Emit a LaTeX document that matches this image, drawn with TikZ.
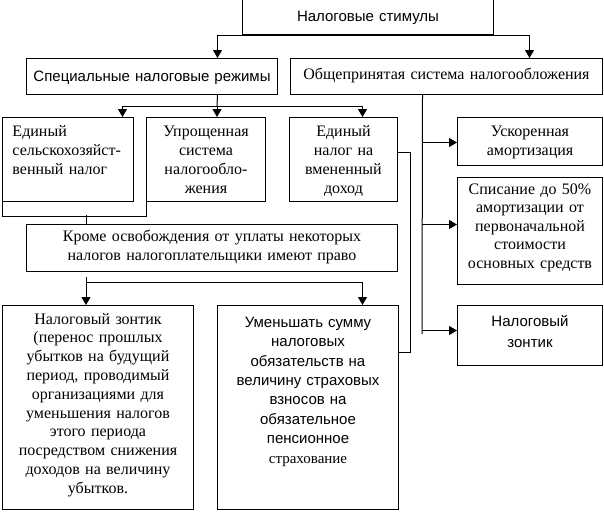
\documentclass[tikz,border=0pt]{standalone}
\usepackage{fontspec}
\setmainfont{Liberation Serif}
\newfontfamily\arialf{Liberation Sans}
\usepackage{tikz}
\usetikzlibrary{arrows.meta, calc}

\begin{document}
\begin{tikzpicture}[x=1pt, y=-1pt, line width=1pt,
  box/.style={draw, anchor=north west, inner sep=0pt, align=center},
  serif/.style={font=\fontsize{16}{19}\selectfont},
  sans/.style={font=\arialf\fontsize{15}{19.4}\selectfont},
  arr/.style={-{Triangle[width=9pt, length=8pt]}}]
\useasboundingbox (0,0) rectangle (604,512);

% Top - stimuli and the two systems
\node[box, sans, text width=251pt, text height=36pt, text depth=13pt] (stim) at (242,-15) {Налоговые стимулы};
\node[box, sans, text width=251pt, text height=22.5pt, text depth=13.5pt] (spec) at (26,58) {Специальные налоговые режимы};
\node[box, serif, text width=312pt, text height=20.5pt, text depth=15.5pt] (gen) at (290,58) {Общепринятая система налогообложения};

% Special regimes
\node[box, serif, align=left, inner xsep=10pt, text width=111pt, text height=18.5pt, text depth=65.5pt] (box1) at (2,117) {Единый\\сельскохозяйст-\\венный налог};
\node[box, serif, text width=119pt, text height=18.5pt, text depth=65.5pt] (box2) at (146,117) {Упрощенная\\система\\налогообло-\\жения};
\node[box, serif, text width=108pt, text height=18.5pt, text depth=65.5pt] (box3) at (289,117) {Единый\\налог на\\вмененный\\доход};
\node[box, serif, text width=371pt, text height=16.5pt, text depth=30.5pt] (krome) at (26,224) {Кроме освобождения от уплаты некоторых\\налогов налогоплательщики имеют право};
\node[box, serif, font=\fontsize{16}{18.8}\selectfont, text width=191pt, text height=18.5pt, text depth=185.5pt] (bzont) at (2,305) {Налоговый зонтик\\(перенос прошлых\\убытков на будущий\\период, проводимый\\организациями для\\уменьшения налогов\\этого периода\\посредством снижения\\доходов на величину\\убытков.};
\node[box, sans, text width=181pt, text height=21.7pt, text depth=182.3pt] (bsum) at (217,305) {Уменьшать сумму\\налоговых\\обязательств на\\величину страховых\\взносов на\\обязательное\\пенсионное\\{\rmfamily страхование}};

% General system
\node[box, serif, text width=145pt, text height=18.5pt, text depth=29.5pt] (uskor) at (457,117) {Ускоренная\\амортизация};
\node[box, serif, font=\fontsize{16}{18.5}\selectfont, text width=145pt, text height=16.5pt, text depth=90.5pt] (spis) at (457,177) {Списание до 50\%\\амортизации от\\первоначальной\\стоимости\\основных средств};
\node[box, sans, font=\arialf\fontsize{15}{21}\selectfont, text width=145pt, text height=21pt, text depth=39pt] (nzont) at (457,305) {Налоговый\\зонтик};

% Junctions
\coordinate (r1) at (217,106);
\coordinate (r2) at (86,215);
\coordinate (r3) at (86,282);
\coordinate (r4) at (422,334);

% Arrows
\draw[arr] (stim.south) -| ([xshift=65.5pt]spec.north);
\draw[arr] (stim.south) -| ([xshift=83pt]gen.north);
\draw ([xshift=65.5pt]spec.south) -- (r1);
\draw[arr] (r1) -| ([xshift=54.5pt]box1.north);
\draw[arr] (r1) -- (r1 |- box2.north);
\draw[arr] (r1) -| ([xshift=19pt]box3.north);
\draw (box1.south west) -- ++(0,14) -| (box2.south west);
\draw (r2) -- (r2 |- krome.north);
\draw ([yshift=-5pt]krome.south -| r3) -- (r3);
\draw[arr] (r3) -- (r3 |- bzont.north);
\draw[arr] (r3) -| ([xshift=54.5pt]bsum.north);
\draw ([yshift=7pt]box3.east) -| ([xshift=11pt, yshift=55pt]bsum.east) -- ([yshift=55pt]bsum.east);
\draw ([xshift=-24pt]gen.south) -- (r4);
\draw[arr] ([yshift=-1pt]uskor.west -| r4) -- ([yshift=-1pt]uskor.west);
\draw[arr] ([yshift=6.5pt]spis.west -| r4) -- ([yshift=6.5pt]spis.west);
\draw[arr] ([yshift=5pt]nzont.west -| r4) -- ([yshift=5pt]nzont.west);
\end{tikzpicture}
\end{document}
